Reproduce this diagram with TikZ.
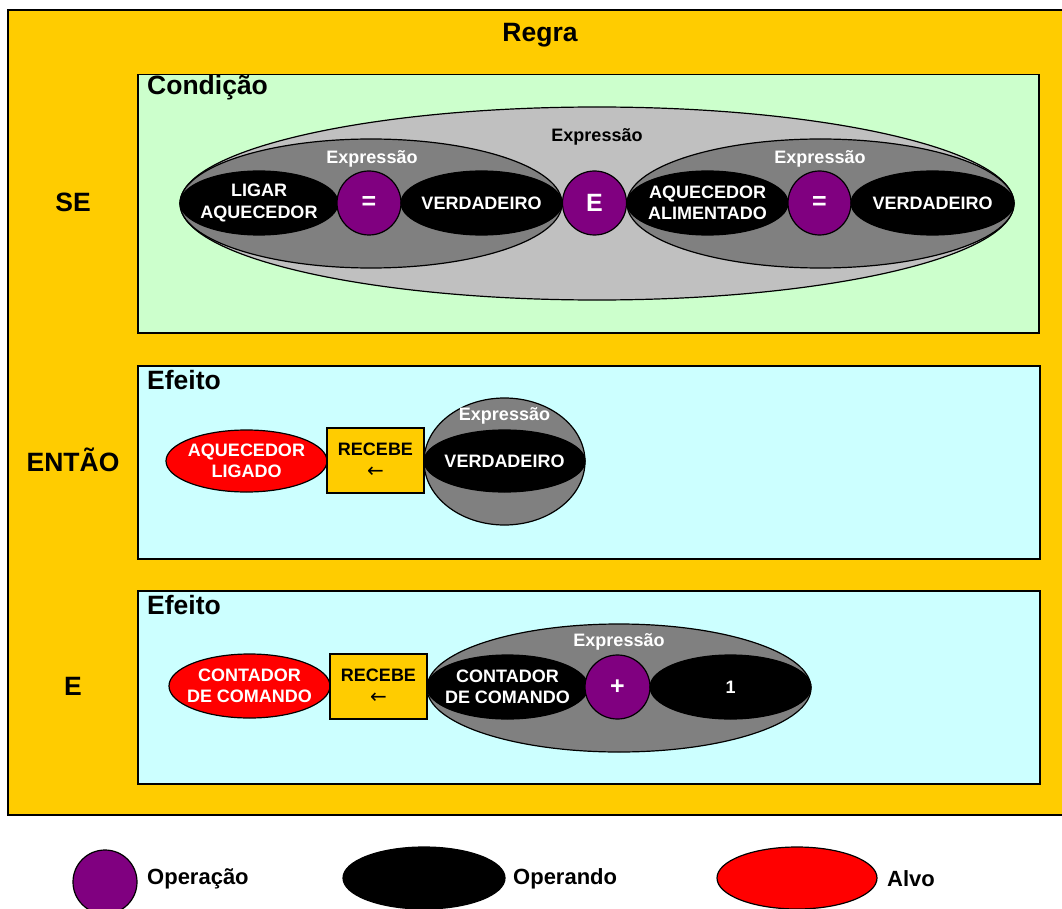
\documentclass[tikz,border=0pt]{standalone}
\usepackage{fontspec}
\setmainfont{Liberation Sans}
\newfontfamily\arrowfont{DejaVu Sans}
\usetikzlibrary{shapes.geometric}
\definecolor{regra}{HTML}{FFCC00}
\definecolor{cond}{HTML}{CCFFCC}
\definecolor{efeito}{HTML}{CCFFFF}
\definecolor{opcolor}{HTML}{800080}
\definecolor{lgray}{HTML}{C0C0C0}
\definecolor{dgray}{HTML}{808080}
\tikzset{
  panel/.style={draw=black, line width=1.5pt, anchor=north west, inner sep=0pt},
  title/.style={font=\fontsize{26.5}{28}\selectfont\bfseries, inner sep=0pt},
  exprbig/.style={ellipse, draw=black, line width=1.2pt, fill=lgray, inner sep=0pt},
  expr/.style={ellipse, draw=black, line width=1.2pt, fill=dgray, inner sep=0pt},
  % negative inner sep keeps the ellipse at its minimum size around the wide text
  operando/.style={ellipse, draw=black, line width=1.2pt, fill=black, text=white,
    inner xsep=-30pt, inner ysep=-12pt,
    minimum width=160pt, minimum height=64pt, align=center,
    font=\fontsize{18}{21.5}\selectfont\bfseries},
  alvo/.style={operando, fill=red},
  operacao/.style={ellipse, draw=black, line width=1.2pt, fill=opcolor, text=white, inner sep=0pt,
    minimum width=64pt, minimum height=64pt, font=\fontsize{25}{27}\selectfont\bfseries},
  recebe/.style={draw=black, line width=1.2pt, fill=regra, inner sep=0pt,
    minimum width=97pt, minimum height=65pt, align=center,
    font=\fontsize{18}{22}\selectfont\bfseries},
  exprlabel/.style={font=\fontsize{18}{20}\selectfont\bfseries, inner sep=0pt},
  legendtext/.style={font=\fontsize{22}{24}\selectfont\bfseries, anchor=west, inner sep=0pt},
}
\begin{document}
\begin{tikzpicture}[x=1pt, y=-1pt]
\useasboundingbox[fill=white] (0,0) rectangle (1062,909);

% rule frame
\fill[regra] (8,10) rectangle (1062,815);
\draw[line width=1.5pt] (1062,10) -- (8,10) -- (8,815) -- (1062,815);
\node[title] (regra) at (540,35) {Regra};

% left keywords
\node[title] (se) at (73,202) {SE};
\node[title] (entao) at (73,460) {ENTÃO};
\node[title] (e) at (73,686) {E};

% panels
\node[panel, fill=cond, minimum width=901pt, minimum height=258pt] (condbox) at (137,74) {};
\node[title, anchor=west] (condt) at (147,88) {Condição};
\node[panel, fill=efeito, minimum width=902pt, minimum height=193pt] (ef1box) at (137,365) {};
\node[title, anchor=west] (ef1t) at (147,380) {Efeito};
\node[panel, fill=efeito, minimum width=902pt, minimum height=193pt] (ef2box) at (137,590) {};
\node[title, anchor=west] (ef2t) at (147,605) {Efeito};

% condition expression
\node[exprbig, minimum width=834pt, minimum height=193pt] (bigexpr) at (597,203.5) {};
\node[exprlabel] (bigexprl) at (597,137) {Expressão};
\node[expr, minimum width=382pt, minimum height=129pt] (lexpr) at (371,203.5) {};
\node[exprlabel, text=white] (lexprl) at (372,159) {Expressão};
\node[expr, minimum width=387pt, minimum height=129pt] (rexpr) at (820.5,203.5) {};
\node[exprlabel, text=white] (rexprl) at (820,159) {Expressão};

\node[operando, minimum width=158pt] (ligar) at (259,203) {LIGAR\\AQUECEDOR};
\node[operacao] (eq1) at (369,203) {=};
\node[operando, minimum width=161pt] (verd1) at (481.5,203) {VERDADEIRO};
\node[operacao] (andop) at (594.5,203) {E};
\node[operando, minimum width=161pt] (alim) at (707.5,203) {AQUECEDOR\\ALIMENTADO};
\node[operacao, minimum width=63pt] (eq2) at (819.5,203) {=};
\node[operando, minimum width=163pt] (verd2) at (932.5,203) {VERDADEIRO};

% first effect
\node[alvo, minimum width=161pt, minimum height=62pt] (aqlig) at (246.5,461) {AQUECEDOR\\LIGADO};
\node[recebe] (rec1) at (375.5,460.5) {RECEBE\\{\arrowfont\mdseries\fontsize{20}{22}\selectfont ←}};
\node[expr, minimum width=161pt, minimum height=127pt] (expr1) at (504.5,461.5) {};
\node[exprlabel, text=white] (expr1l) at (504.5,416) {Expressão};
\node[operando, minimum width=161pt, minimum height=62pt] (verd3) at (504.5,461) {VERDADEIRO};

% second effect
\node[alvo, minimum width=161pt] (cont1) at (249.5,686) {CONTADOR\\DE COMANDO};
\node[recebe] (rec2) at (378.5,686.5) {RECEBE\\{\arrowfont\mdseries\fontsize{20}{22}\selectfont ←}};
\node[expr, minimum width=384pt, minimum height=128pt] (expr2) at (619,688) {};
\node[exprlabel, text=white] (expr2l) at (619,642) {Expressão};
\node[operando, minimum width=161pt] (cont2) at (507.5,687) {CONTADOR\\DE COMANDO};
\node[operacao, minimum width=65pt] (plus) at (617.5,687) {+};
\node[operando, minimum width=161pt] (one) at (730.5,687) {1};

% legend
\node[operacao] (legop) at (105,882) {};
\node[legendtext] (legopt) at (147,879) {Operação};
\node[operando, minimum width=162pt, minimum height=62pt] (legopd) at (424,878) {};
\node[legendtext] (legopdt) at (513,879) {Operando};
\node[alvo, minimum width=160pt, minimum height=62pt] (legalvo) at (797,878) {};
\node[legendtext] (legalvot) at (887,879) {Alvo};
\end{tikzpicture}
\end{document}
